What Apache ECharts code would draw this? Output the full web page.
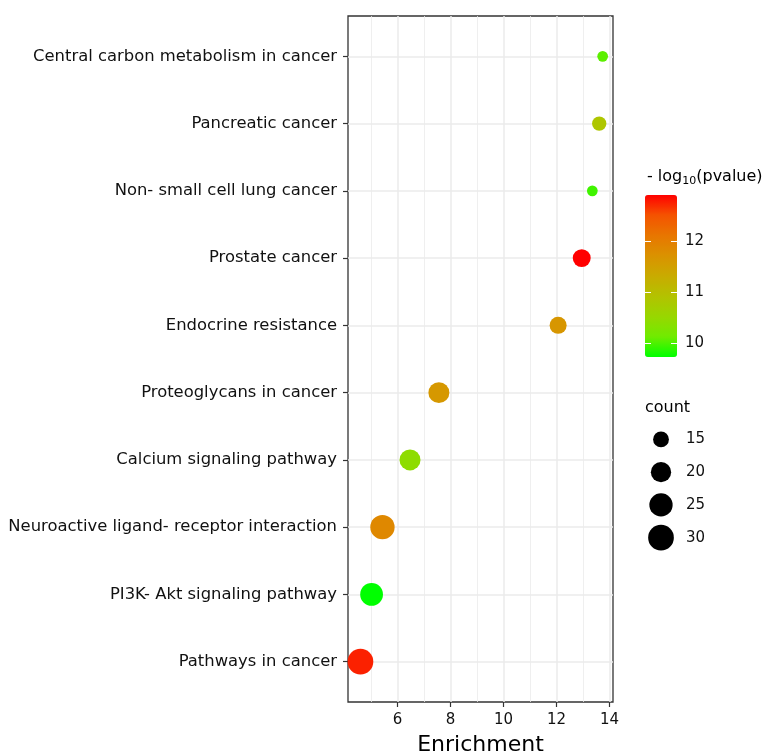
<!DOCTYPE html>
<html>
<head>
<meta charset="utf-8">
<script src="https://cdn.jsdelivr.net/npm/echarts@6/dist/echarts.min.js"></script>
<style>
  html, body { margin: 0; padding: 0; background: #fff; }
  #bubbleChart { width: 763px; height: 755px; }
</style>
</head>
<body>
<div id="bubbleChart"></div>
<script>
// pathways, listed top to bottom as in the plot
var pathways = ['Central carbon metabolism in cancer', 'Pancreatic cancer', 'Non- small cell lung cancer',
    'Prostate cancer', 'Endocrine resistance', 'Proteoglycans in cancer', 'Calcium signaling pathway',
    'Neuroactive ligand- receptor interaction', 'PI3K- Akt signaling pathway', 'Pathways in cancer'];
var enrichment = [13.74, 13.61, 13.35, 12.95, 12.06, 7.56, 6.47, 5.43, 5.02, 4.60];
var counts = [13, 14, 13, 17, 16, 21, 21, 27, 24, 30];
var logP = [10.05, 10.85, 9.95, 12.92, 11.65, 11.62, 10.42, 11.86, 9.72, 12.76];

var xTicks = [6, 8, 10, 12, 14];
var xMinorTicks = [5, 7, 9, 11, 13];
var colorTicks = [10, 11, 12];
var sizeTicks = [15, 20, 25, 30];

var font = 'DejaVu Sans';
var cMin = Math.min.apply(null, counts), cMax = Math.max.apply(null, counts);
var pMin = Math.min.apply(null, logP), pMax = Math.max.apply(null, logP);
function sizeOf(c) {
    // area scale like ggplot's scale_size
    return 10.7 + 15 * Math.sqrt(Math.max(0, c - cMin) / (cMax - cMin));
}

var chart = echarts.init(document.getElementById('bubbleChart'));

var points = pathways.map(function (p, i) {
    return [enrichment[i], i, counts[i], logP[i]];
});
var rowTicks = pathways.map(function (p, i) { return i; });

var option = {
    animation: false,
    backgroundColor: '#fff',
    title: [
        {
            text: '- log{sub|10}(pvalue)',
            left: 647, top: 167, padding: 0,
            textStyle: {
                fontFamily: font, fontSize: 16, fontWeight: 'normal', color: '#000', lineHeight: 20,
                rich: { sub: { fontFamily: font, fontSize: 11, color: '#000', padding: [8, 0, 0, 0] } }
            }
        },
        {
            text: 'count',
            left: 645, top: 398, padding: 0,
            textStyle: { fontFamily: font, fontSize: 16, fontWeight: 'normal', color: '#000', lineHeight: 20 }
        }
    ],
    grid: [
        { left: 348, right: 150, top: 16, bottom: 53, outerBoundsMode: 'none', show: true, borderColor: '#333', borderWidth: 1.3, backgroundColor: '#fff' },
        { left: 645, top: 195, width: 32, height: 162, outerBoundsMode: 'none' },
        { left: 645, top: 423, width: 32, height: 131, outerBoundsMode: 'none' }
    ],
    xAxis: [
        {
            type: 'value', gridIndex: 0, min: 4.13, max: 14.13,
            name: 'Enrichment', nameLocation: 'middle', nameGap: 32,
            nameTextStyle: { fontFamily: font, fontSize: 22, color: '#000' },
            axisLine: { show: false, onZero: false },
            axisTick: { show: true, length: 5, customValues: xTicks, lineStyle: { color: '#333', width: 1.2 } },
            axisLabel: { customValues: xTicks, margin: 11, fontFamily: font, fontSize: 15, color: '#111' },
            splitLine: { show: true, lineStyle: { color: '#ebebeb', width: 1.5 } }
        },
        {
            type: 'value', gridIndex: 0, min: 4.13, max: 14.13, position: 'top',
            axisLine: { show: false, onZero: false },
            axisTick: { show: false, customValues: xMinorTicks },
            axisLabel: { show: false, customValues: xMinorTicks },
            splitLine: { show: true, lineStyle: { color: '#ebebeb', width: 0.8 } }
        },
        { type: 'value', gridIndex: 1, min: 0, max: 1, show: false, axisLine: { onZero: false } },
        { type: 'value', gridIndex: 2, min: -1, max: 1, show: false, axisLine: { onZero: false } }
    ],
    yAxis: [
        {
            type: 'value', gridIndex: 0, min: -0.6, max: 9.6, inverse: true,
            axisLine: { show: false, onZero: false },
            axisTick: { show: true, length: 5, customValues: rowTicks, lineStyle: { color: '#333', width: 1.2 } },
            axisLabel: {
                customValues: rowTicks, margin: 11,
                fontFamily: font, fontSize: 16.4, color: '#111',
                formatter: function (v) { return pathways[Math.round(v)]; }
            },
            splitLine: { show: true, lineStyle: { color: '#ebebeb', width: 1.5 } }
        },
        {
            type: 'value', gridIndex: 1, min: pMin, max: pMax,
            position: 'left', z: 10,
            axisLine: { show: false, onZero: false },
            axisTick: { show: true, inside: true, length: 6, customValues: colorTicks, lineStyle: { color: '#fff', width: 1 } },
            axisLabel: { show: false, customValues: colorTicks },
            splitLine: { show: false }
        },
        {
            type: 'value', gridIndex: 1, min: pMin, max: pMax,
            position: 'right', z: 10,
            axisLine: { show: false, onZero: false },
            axisTick: { show: true, inside: true, length: 6, customValues: colorTicks, lineStyle: { color: '#fff', width: 1 } },
            axisLabel: { customValues: colorTicks, margin: 8, fontFamily: font, fontSize: 15, color: '#111' },
            splitLine: { show: false }
        },
        {
            type: 'category', gridIndex: 2, inverse: true, position: 'right',
            data: sizeTicks.map(String),
            axisLine: { show: false, onZero: false },
            axisTick: { show: false },
            axisLabel: { margin: 9, fontFamily: font, fontSize: 15, color: '#111' },
            splitLine: { show: false }
        }
    ],
    visualMap: {
        type: 'continuous',
        seriesIndex: 0,
        dimension: 3,
        min: pMin,
        max: pMax,
        left: 645, top: 195, padding: 0,
        itemWidth: 32, itemHeight: 162,
        calculable: false,
        text: null,
        inRange: {
            // green -> red, sampled in Lab space like ggplot
            color: ['#00ff00', '#70eb00', '#98d700', '#b3c200', '#c9ab00', '#da9200', '#e87600', '#f55300', '#ff0000']
        }
    },
    series: [
        {
            type: 'scatter',
            xAxisIndex: 0, yAxisIndex: 0,
            data: points,
            symbolSize: function (v) { return sizeOf(v[2]); },
            itemStyle: { opacity: 1 }
        },
        {
            type: 'scatter',
            xAxisIndex: 3, yAxisIndex: 3,
            data: sizeTicks.map(function (c) { return [0, String(c)]; }),
            symbolSize: function (v) { return sizeOf(+v[1]); },
            itemStyle: { color: '#000', opacity: 1 }
        }
    ]
};

chart.setOption(option);
window.addEventListener('resize', function () {
    chart.resize();
});
</script>
</body>
</html>
